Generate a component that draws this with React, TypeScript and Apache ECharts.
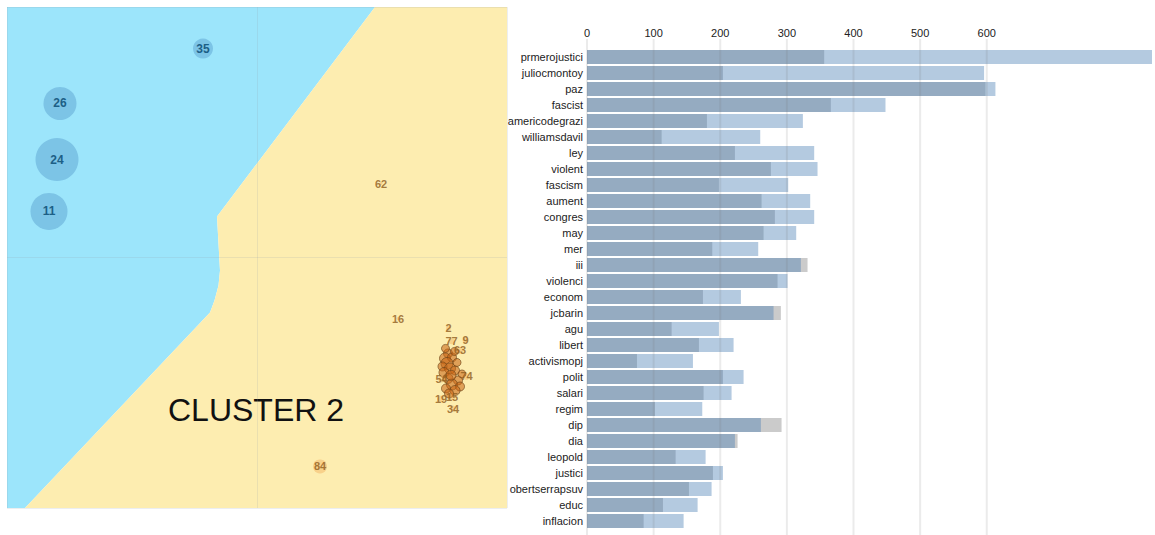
import React, { useEffect, useRef } from "react";
import * as echarts from "echarts";

// Term bars (top to bottom)
const terms = [
  "prmerojustici", "juliocmontoy", "paz", "fascist", "americodegrazi", "williamsdavil",
  "ley", "violent", "fascism", "aument", "congres", "may", "mer", "iii", "violenci",
  "econom", "jcbarin", "agu", "libert", "activismopj", "polit", "salari", "regim",
  "dip", "dia", "leopold", "justici", "obertserrapsuv", "educ", "inflacion",
];
// Estimated frequency within the selected cluster
const clusterFreq = [
  356, 204, 598, 366, 180, 112, 222, 276, 198, 262, 282, 265, 188, 321, 286,
  174, 280, 127, 168, 75, 204, 175, 102, 261, 222, 133, 189, 153, 114, 85,
];
// Overall frequency (blue)
const overallFreq = [
  848, 596, 613, 448, 324, 260, 341, 346, 302, 335, 341, 314, 257, null, 301,
  231, null, 198, 220, 159, 235, 217, 173, null, null, 178, 204, 187, 166, 145,
];
// Overall frequency (grey)
const otherFreq = [
  null, null, null, null, null, null, null, null, null, null, null, null, null, 331, null,
  null, 291, null, null, null, null, null, null, 292, 226, null, null, null, null, null,
];
const tickValues = [0, 100, 200, 300, 400, 500, 600];

// Cluster regions in the topic map (x, y)
const blueRegion = [
  [-1, 1], [0.472, 1], [-0.16, 0.164], [-0.148, -0.052], [-0.154, -0.112],
  [-0.17, -0.172], [-0.188, -0.22], [-0.928, -1], [-1, -1],
];
const yellowRegion = [
  [0.472, 1], [1, 1], [1, -1], [-0.928, -1], [-0.188, -0.22], [-0.17, -0.172],
  [-0.154, -0.112], [-0.148, -0.052], [-0.16, 0.164],
];

// Topics of cluster 1: [x, y, diameter, topic]
const blueTopics = [
  [-0.216, 0.834, 20, "35"],
  [-0.788, 0.615, 33, "26"],
  [-0.8, 0.391, 43, "24"],
  [-0.832, 0.184, 37, "11"],
];
// Labelled topics of cluster 2: [x, y, diameter, topic]
const yellowTopics = [
  [0.496, 0.295, 3, "62"],
  [0.564, -0.244, 3, "16"],
  [0.252, -0.834, 14, "84"],
  [0.766, -0.282, 5, "2"],
  [0.778, -0.334, 6, "77"],
  [0.834, -0.33, 6, "9"],
  [0.812, -0.37, 7, "63"],
  [0.738, -0.485, 7, "54"],
  [0.838, -0.475, 7, "74"],
  [0.736, -0.565, 7, "19"],
  [0.78, -0.557, 7, "15"],
  [0.784, -0.603, 6, "34"],
];
// Densely packed topics of cluster 2: [x, y, diameter]
const packedTopics = [
  [0.764, -0.383, 9], [0.752, -0.403, 11], [0.78, -0.399, 9], [0.76, -0.423, 12],
  [0.742, -0.435, 9], [0.772, -0.443, 11], [0.792, -0.451, 9], [0.748, -0.459, 10],
  [0.8, -0.419, 8], [0.764, -0.483, 10], [0.804, -0.491, 9], [0.78, -0.507, 11],
  [0.812, -0.515, 9], [0.756, -0.523, 9], [0.792, -0.531, 10], [0.768, -0.543, 9],
  [0.79, -0.375, 8], [0.82, -0.465, 8], [0.776, -0.47, 10], [0.754, -0.363, 8],
];

const FONT = "Liberation Sans, Arial, sans-serif";

export default function App() {
  const ref = useRef<HTMLDivElement>(null);

  useEffect(() => {
    if (!ref.current) return;
    const chart = echarts.init(ref.current, undefined, { renderer: "svg" });
    const regions = [
      { pts: blueRegion, color: "#9ce5fb" },
      { pts: yellowRegion, color: "#fdedb0" },
    ];

    chart.setOption({
      animation: false,
      backgroundColor: "#ffffff",
      grid: [
        { left: 7, top: 7, width: 500, height: 501 },
        { left: 587, top: 49, width: 568, height: 480 },
      ],
      xAxis: [
        {
          gridIndex: 0, type: "value", min: -1, max: 1, interval: 1,
          axisLine: { show: false }, axisTick: { show: false }, axisLabel: { show: false },
          splitLine: { lineStyle: { color: "rgba(150,160,170,0.18)", width: 1 } },
        },
        {
          gridIndex: 1, type: "value", position: "top", min: 0, max: 848, interval: 100,
          axisLine: { show: false }, axisTick: { show: false },
          splitLine: { show: false },
          axisLabel: {
            margin: 11, fontSize: 11, color: "#222", fontFamily: FONT,
            formatter: (v: number) => (v <= 600 ? String(v) : ""),
          },
        },
      ],
      yAxis: [
        {
          gridIndex: 0, type: "value", min: -1, max: 1, interval: 1,
          axisLine: { show: false }, axisTick: { show: false }, axisLabel: { show: false },
          splitLine: { lineStyle: { color: "rgba(150,160,170,0.18)", width: 1 } },
        },
        {
          gridIndex: 1, type: "category", data: terms, inverse: true,
          axisLine: { show: false }, axisTick: { show: false },
          axisLabel: { margin: 4, fontSize: 11, color: "#222", fontFamily: FONT },
        },
      ],
      series: [
        {
          type: "custom",
          xAxisIndex: 0, yAxisIndex: 0,
          z: -1,
          silent: true,
          data: regions.map((_, i) => [i]),
          renderItem: (params: any, api: any) => {
            const r = regions[params.dataIndex];
            return {
              type: "polygon",
              shape: { points: r.pts.map((p) => api.coord(p)) },
              style: { fill: r.color },
            };
          },
        },
        {
          type: "scatter",
          xAxisIndex: 0, yAxisIndex: 0,
          data: blueTopics,
          symbolSize: (v: any[]) => v[2] as number,
          itemStyle: { color: "#7cc4e6", opacity: 1 },
          label: {
            show: true, position: "inside", formatter: (p: any) => p.value[3],
            fontSize: 12, fontWeight: "bold", color: "#1c5f86", fontFamily: FONT,
          },
        },
        {
          type: "scatter",
          xAxisIndex: 0, yAxisIndex: 0,
          data: packedTopics,
          symbolSize: (v: any[]) => v[2] as number,
          itemStyle: {
            color: "rgba(200,100,20,0.7)",
            borderColor: "rgba(110,70,25,0.85)", borderWidth: 1,
          },
        },
        {
          type: "scatter",
          xAxisIndex: 0, yAxisIndex: 0,
          data: yellowTopics,
          symbolSize: (v: any[]) => v[2] as number,
          itemStyle: {
            color: "rgba(240,150,60,0.4)",
          },
          label: {
            show: true, position: "inside", formatter: (p: any) => p.value[3],
            fontSize: 11, fontWeight: "bold", color: "#8e5c1c", fontFamily: FONT,
          },
        },
        {
          type: "bar",
          xAxisIndex: 1, yAxisIndex: 1,
          data: otherFreq,
          barWidth: 14,
          barGap: "-100%",
          itemStyle: { color: "#cbcbcb" },
        },
        {
          type: "bar",
          xAxisIndex: 1, yAxisIndex: 1,
          data: overallFreq,
          barWidth: 14,
          barGap: "-100%",
          itemStyle: { color: "#b4cae0" },
        },
        {
          type: "bar",
          xAxisIndex: 1, yAxisIndex: 1,
          data: clusterFreq,
          barWidth: 14,
          barGap: "-100%",
          itemStyle: { color: "#95abc1" },
        },
        {
          // vertical guide lines drawn over the bars
          type: "custom",
          xAxisIndex: 1, yAxisIndex: 1,
          z: 5,
          silent: true,
          clip: false,
          data: tickValues.map((v) => [v, 0]),
          renderItem: (params: any, api: any) => {
            const cs = params.coordSys;
            const x = api.coord([api.value(0), 0])[0];
            return {
              type: "line",
              shape: { x1: x, y1: cs.y - 10, x2: x, y2: cs.y + cs.height + 8 },
              style: { stroke: "rgba(110,110,110,0.14)", lineWidth: 2 },
            };
          },
        },
      ],
      graphic: [
        {
          type: "text",
          left: 168,
          top: 394,
          style: {
            text: "CLUSTER 2",
            fontSize: 32,
            fontFamily: FONT,
            fill: "#111",
          },
        },
      ],
    });

    return () => chart.dispose();
  }, []);

  return (
    <div
      ref={ref}
      style={{ position: "fixed", left: 0, top: 0, width: 1155, height: 535 }}
    />
  );
}
